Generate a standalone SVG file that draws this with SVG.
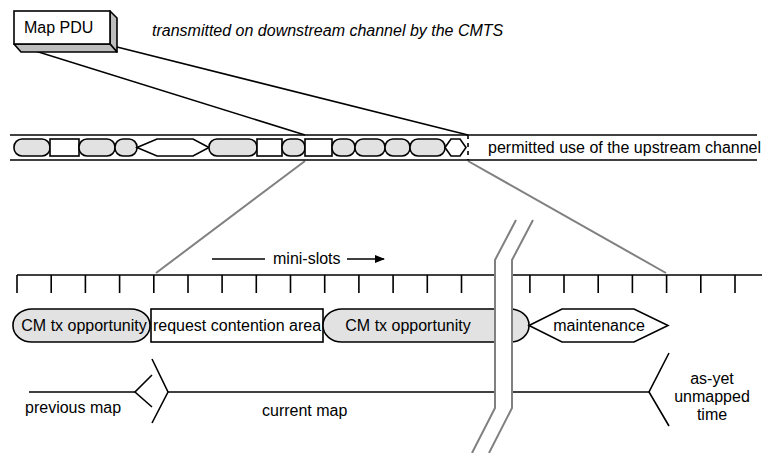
<svg xmlns="http://www.w3.org/2000/svg" width="762" height="453" viewBox="0 0 762 453">
<defs>
<style>
text{font-family:"Liberation Sans",Arial,sans-serif;font-size:16px;fill:#000}
.ln{stroke:#000;stroke-width:1.6;fill:none}
.gl{stroke:#808080;stroke-width:2;fill:none}
.g{fill:#e2e2e2;stroke:#000;stroke-width:1.6}
.w{fill:#fff;stroke:#000;stroke-width:1.6}
.side{fill:#bdbdbd;stroke:#000;stroke-width:1.6;stroke-linejoin:round}
</style>
<marker id="ah" markerWidth="10" markerHeight="8" refX="9" refY="4" orient="auto" markerUnits="userSpaceOnUse">
<path d="M0,0 L10,4 L0,8 Z" fill="#000"/>
</marker>
</defs>
<rect width="762" height="453" fill="#fff"/>

<g id="connectors">
<line class="ln" x1="16" y1="45" x2="305" y2="135"/>
<line class="ln" x1="117" y1="47" x2="468" y2="135"/>
<line class="gl" x1="305" y1="161" x2="156" y2="273"/>
<line class="gl" x1="468" y1="161" x2="666" y2="273"/>
</g>

<g id="map-pdu">
<polygon class="side" points="110,11 117,18 117,52 110,44"/>
<polygon class="side" points="14,44 110,44 117,52 21,52"/>
<rect class="w" x="14" y="11" width="96" height="33"/>
<text x="24" y="33">Map PDU</text>
</g>

<g id="caption">
<text x="152" y="36" font-style="italic">transmitted on downstream channel by the CMTS</text>
</g>

<g id="upstream-channel">
<line class="ln" x1="10" y1="135" x2="757" y2="135"/>
<line class="ln" x1="10" y1="160" x2="757" y2="160"/>
<rect class="g" x="14" y="139" width="36" height="17" rx="8"/>
<rect class="w" x="50" y="139" width="29" height="17"/>
<rect class="g" x="79" y="139" width="36" height="17" rx="8"/>
<rect class="g" x="115" y="139" width="22" height="17" rx="8"/>
<polygon class="w" points="137,147.5 157,139 193,139 209,147.5 193,156 157,156"/>
<rect class="g" x="209" y="139" width="48" height="17" rx="8"/>
<rect class="w" x="257" y="139" width="25" height="17"/>
<rect class="g" x="282" y="139" width="23" height="17" rx="8"/>
<rect class="w" x="305" y="139" width="27" height="17"/>
<rect class="g" x="332" y="139" width="23" height="17" rx="8"/>
<rect class="g" x="355" y="139" width="30" height="17" rx="8"/>
<rect class="g" x="385" y="139" width="25" height="17" rx="8"/>
<rect class="g" x="410" y="139" width="35" height="17" rx="8"/>
<polygon class="w" points="445,147.5 451,139 460,139 466,147.5 460,156 451,156"/>
<line x1="468" y1="135" x2="468" y2="160" stroke="#000" stroke-width="1.6" stroke-dasharray="4,4"/>
<text x="488" y="153">permitted use of the upstream channel</text>
</g>

<g id="mini-slots">
<line class="ln" x1="17" y1="275" x2="762" y2="275"/>
<path class="ln" d="M17,275V293M51.2,275V293M85.4,275V293M119.6,275V293M153.8,275V293M188,275V293M222.1,275V293M256.3,275V293M290.5,275V293M324.7,275V293M358.9,275V293M393.1,275V293M427.3,275V293M461.5,275V293M495.7,275V293M529.9,275V293M564,275V293M598.2,275V293M632.4,275V293M666.6,275V293M700.8,275V293M735,275V293"/>
<line class="ln" x1="212" y1="259" x2="265" y2="259"/>
<text x="273" y="264">mini-slots</text>
<line class="ln" x1="347" y1="259" x2="384" y2="259" marker-end="url(#ah)"/>
</g>

<g id="cm-tx-1">
<rect class="g" x="13" y="309" width="137" height="33" rx="19" ry="16"/>
<text x="84" y="331" text-anchor="middle">CM tx opportunity</text>
</g>
<g id="request-contention">
<rect class="w" x="151" y="309" width="172" height="33"/>
<text x="237" y="331" text-anchor="middle">request contention area</text>
</g>
<g id="cm-tx-2">
<rect class="g" x="323" y="309" width="206" height="33" rx="19" ry="16"/>
<text x="408" y="331" text-anchor="middle">CM tx opportunity</text>
</g>
<g id="maintenance">
<polygon class="w" points="529,325.5 562,309 634,309 668,325.5 634,342 562,342"/>
<text x="599" y="331" text-anchor="middle">maintenance</text>
</g>

<g id="map-timeline">
<line class="ln" x1="29" y1="392" x2="135" y2="392"/>
<polyline class="ln" points="152,375 135,392 152,407"/>
<polyline class="ln" points="152,359 168,392 152,423"/>
<line class="ln" x1="168" y1="392" x2="649" y2="392"/>
<polyline class="ln" points="669,353 649,392 669,426"/>
<text x="25" y="413">previous map</text>
<text x="262" y="416">current map</text>
<text x="712" y="384" text-anchor="middle">as-yet</text>
<text x="712" y="402" text-anchor="middle">unmapped</text>
<text x="712" y="420" text-anchor="middle">time</text>
</g>

<g id="break">
<polygon points="516,220 533,220 512,260 512,408 489,453 472,453 495,408 495,260" fill="#fff"/>
<polyline class="gl" points="516,220 495,260 495,408 472,453"/>
<polyline class="gl" points="533,220 512,260 512,408 489,453"/>
</g>
</svg>
